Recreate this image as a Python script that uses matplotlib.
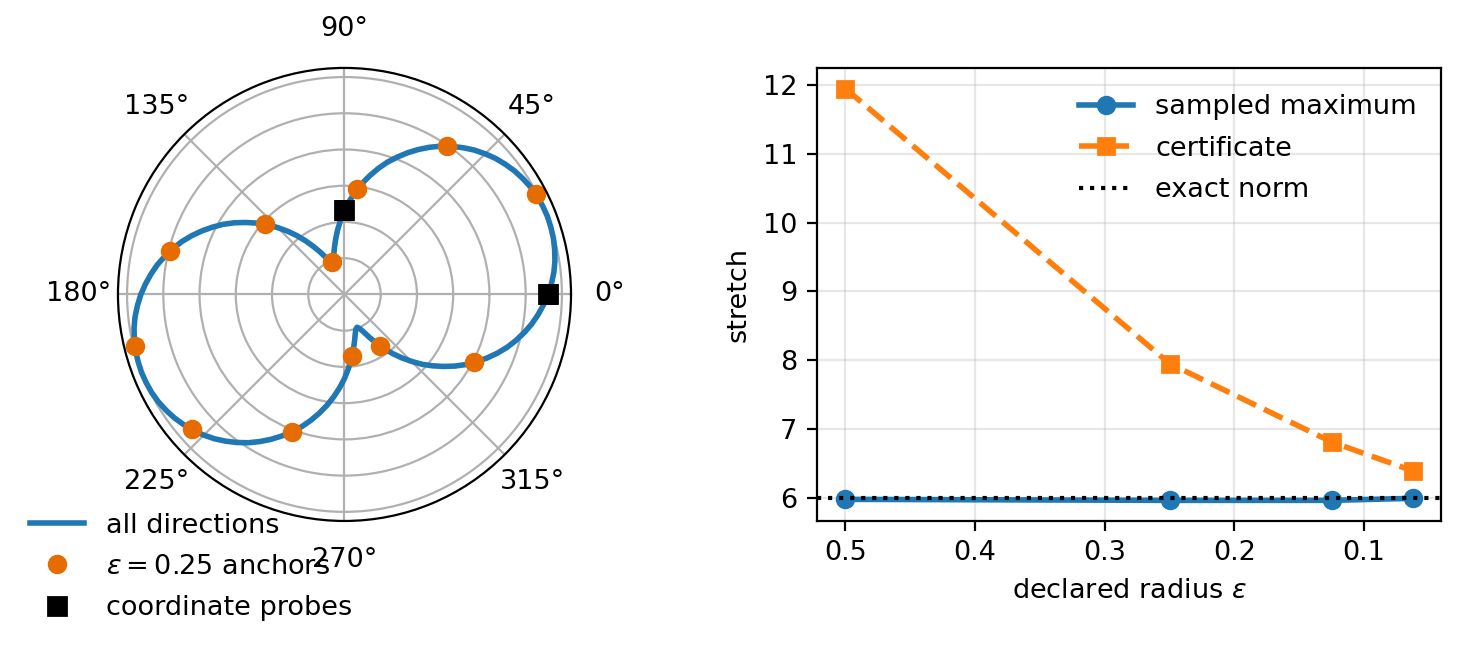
import numpy as np
import matplotlib
matplotlib.use("Agg")
import matplotlib.pyplot as plt

# ---- left panel data: stretch per direction, read every 3 degrees over a half
# turn (the picture is point-symmetric: direction d and d+180 stretch equally) ----
half_deg = list(range(0, 180, 3))
half_r = [5.62, 5.72, 5.81, 5.88, 5.93, 5.97, 5.99, 6.00, 5.99, 5.97,
          5.93, 5.87, 5.80, 5.71, 5.61, 5.49, 5.36, 5.21, 5.05, 4.88,
          4.69, 4.49, 4.28, 4.06, 3.84, 3.60, 3.35, 3.10, 2.84, 2.58,
          2.32, 2.05, 1.80, 1.55, 1.33, 1.14, 1.01, 0.97, 1.03, 1.16,
          1.36, 1.58, 1.83, 2.09, 2.35, 2.61, 2.88, 3.13, 3.38, 3.63,
          3.87, 4.09, 4.31, 4.52, 4.72, 4.90, 5.07, 5.23, 5.37, 5.50]

anchor_deg = [0.0, 27.69, 55.38, 83.08, 110.77, 138.46, 166.15, 193.85, 221.54,
              249.23, 276.92, 304.62, 332.31]
anchor_r = [5.62, 5.96, 4.97, 2.92, 0.97, 2.92, 4.97, 5.96, 5.62, 4.05, 1.72,
            1.72, 4.04]

probe_deg = [0.0, 90.0]
probe_r = [5.62, 2.32]

# ---- right panel data ----
eps = [0.5, 0.25, 0.125, 0.0625]
sampled_max = [5.975, 5.96, 5.96, 5.99]
certificate = [11.95, 7.95, 6.81, 6.39]
exact_norm = 6.0

curve_deg = half_deg + [d + 180 for d in half_deg] + [360]
curve_r = half_r + half_r + [half_r[0]]

plt.rcParams['font.size'] = 9.75
plt.rcParams['legend.labelspacing'] = 0.57

fig = plt.figure(figsize=(7.3, 3.25), dpi=200)

# polar panel
axp = fig.add_axes([0.0808, 0.1985, 0.3103, 0.697], projection='polar')
axp.plot(np.deg2rad(curve_deg), curve_r, color='C0', lw=2, label='all directions')
axp.plot(np.deg2rad(anchor_deg), anchor_r, ls='none', marker='o', ms=6,
         color='#e66c00', label=r'$\varepsilon = 0.25$ anchors')
axp.plot(np.deg2rad(probe_deg), probe_r, ls='none', marker='s', ms=6.5,
         color='black', label='coordinate probes')
axp.set_yticklabels([])
axp.legend(loc='upper left', bbox_to_anchor=(0.004, 0.249),
           bbox_transform=fig.transFigure, frameon=False)

# right panel
ax = fig.add_axes([0.5596, 0.1985, 0.4274, 0.697])
ax.plot(eps, sampled_max, 'o-', color='C0', lw=2, ms=6, label='sampled maximum')
ax.plot(eps, certificate, 's--', color='C1', lw=2, ms=6, label='certificate')
ax.axhline(exact_norm, color='black', ls=':', lw=1.5, label='exact norm')
ax.invert_xaxis()
ax.set_xlabel(r'declared radius $\varepsilon$')
ax.set_ylabel('stretch')
ax.grid(True, alpha=0.3)
ax.legend(loc='upper right', bbox_to_anchor=(1.0, 0.9956), frameon=False)

fig.savefig('out.png', dpi=200)
